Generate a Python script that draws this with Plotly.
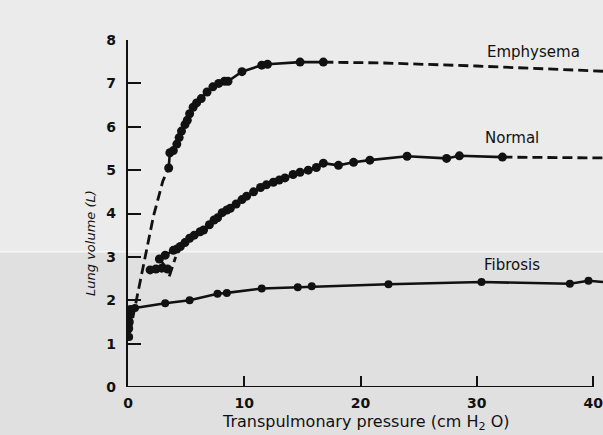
import plotly.graph_objects as go

# ---------------- data ----------------
# Emphysema: measured points (solid) and dashed extrapolations
emph_x = [3.5, 3.6, 3.9, 4.2, 4.4, 4.6, 4.9, 5.1, 5.3, 5.6, 5.9, 6.3, 6.8, 7.3, 7.8, 8.3, 8.6, 9.8, 11.5, 12.0, 14.8, 16.8]
emph_y = [5.05, 5.4, 5.45, 5.6, 5.75, 5.9, 6.05, 6.15, 6.3, 6.45, 6.55, 6.65, 6.8, 6.92, 7.0, 7.05, 7.05, 7.27, 7.42, 7.44, 7.49, 7.49]
emph_low_x = [0.15, 0.8, 1.5, 2.2, 3.0, 3.5]
emph_low_y = [1.25, 2.1, 3.0, 3.95, 4.75, 5.05]
emph_high_x = [16.8, 22.0, 30.0, 36.0, 40.85]
emph_high_y = [7.49, 7.47, 7.40, 7.34, 7.28]

# Normal
norm_x = [1.9, 2.4, 2.9, 3.4, 2.7, 3.2, 3.9, 4.2, 4.5, 4.9, 5.3, 5.7, 6.2, 6.5, 7.0, 7.4, 7.7, 8.1, 8.5, 8.8, 9.3, 9.8, 10.2, 10.8, 11.4, 11.9, 12.5, 13.0, 13.5, 14.2, 14.8, 15.5, 16.2, 16.8, 18.1, 19.4, 20.8, 24.0, 27.4, 28.5, 32.2]
norm_y = [2.7, 2.72, 2.74, 2.72, 2.95, 3.04, 3.15, 3.18, 3.24, 3.33, 3.43, 3.5, 3.58, 3.62, 3.74, 3.85, 3.9, 4.02, 4.08, 4.12, 4.22, 4.32, 4.4, 4.5, 4.6, 4.66, 4.72, 4.77, 4.82, 4.9, 4.95, 5.0, 5.06, 5.16, 5.11, 5.18, 5.23, 5.32, 5.27, 5.33, 5.3]
norm_ext_x = [32.2, 40.85]
norm_ext_y = [5.3, 5.28]
norm_low_x = [3.55, 4.1]
norm_low_y = [2.55, 3.0]

# Fibrosis
fib_x = [0.1, 0.1, 0.15, 0.15, 0.2, 0.6, 3.2, 5.3, 7.7, 8.5, 11.5, 14.6, 15.8, 22.4, 30.4, 38.0, 39.6]
fib_y = [1.15, 1.35, 1.5, 1.65, 1.8, 1.82, 1.93, 2.0, 2.15, 2.17, 2.27, 2.3, 2.32, 2.37, 2.42, 2.38, 2.45]
fib_ext_x = [39.6, 40.85]
fib_ext_y = [2.45, 2.42]

x_ticks = [0, 10, 20, 30, 40]
y_ticks = [0, 1, 2, 3, 4, 5, 6, 7, 8]

curve_labels = ["Emphysema", "Normal", "Fibrosis"]
label_x = [34.9, 33.0, 33.0]
label_y = [7.72, 5.74, 2.81]

INK = "#111111"
FONT = "DejaVu Sans"
fig = go.Figure()

def solid(x, y, size=8):
    fig.add_trace(go.Scatter(x=x, y=y, mode="lines+markers",
                             line=dict(color=INK, width=2.6),
                             marker=dict(color=INK, size=size),
                             showlegend=False, hoverinfo="skip"))

def dashed(x, y):
    fig.add_trace(go.Scatter(x=x, y=y, mode="lines",
                             line=dict(color=INK, width=2.8, dash="10px,5px"),
                             showlegend=False, hoverinfo="skip"))

dashed(emph_low_x, emph_low_y)
dashed(emph_high_x, emph_high_y)
solid(emph_x, emph_y, 9)
dashed(norm_ext_x, norm_ext_y)
dashed(norm_low_x, norm_low_y)
solid(norm_x, norm_y, 9)
fig.add_trace(go.Scatter(x=fib_ext_x, y=fib_ext_y, mode="lines",
                         line=dict(color=INK, width=2.6),
                         showlegend=False, hoverinfo="skip"))
solid(fib_x, fib_y, 8)

for t, lx, ly in zip(curve_labels, label_x, label_y):
    fig.add_annotation(x=lx, y=ly, text=t, showarrow=False,
                       font=dict(family=FONT, size=15, color=INK))

# axis titles
fig.add_annotation(xref="paper", yref="paper", x=0.499, y=-0.101,
                   xanchor="center", yanchor="middle",
                   text="Transpulmonary pressure (cm H<sub>2</sub> O)", showarrow=False,
                   font=dict(family=FONT, size=16, color=INK))
fig.add_annotation(xref="paper", yref="paper", x=-0.078, y=0.415,
                   xanchor="center", yanchor="middle",
                   text="<i>Lung volume (L)</i>", showarrow=False, textangle=-90,
                   font=dict(family=FONT, size=13, color=INK))

# scanned-paper background bands
fig.add_shape(type="rect", xref="paper", yref="paper", x0=-0.3, x1=1.0, y0=-0.2, y1=0.39,
              fillcolor="#e0e0e0", line=dict(width=0), layer="below")
fig.add_shape(type="line", xref="paper", yref="paper", x0=-0.3, x1=1.0, y0=0.39, y1=0.39,
              line=dict(color="#f6f6f6", width=1.5), layer="below")
# bottom axis line only up to 40
fig.add_shape(type="line", xref="x", yref="y", x0=0, x1=40, y0=0, y1=0,
              line=dict(color=INK, width=2.2))

tickfont = dict(family=FONT, size=14, color=INK, weight="bold")
fig.update_xaxes(range=[0, 40.85], tickvals=x_ticks, ticks="inside", ticklen=11,
                 tickwidth=2, tickcolor=INK, showline=False, showgrid=False,
                 zeroline=False, tickfont=tickfont, ticklabelstandoff=6,
                 ticklabeloverflow="allow")
fig.update_yaxes(range=[0, 8], tickvals=y_ticks, ticks="inside", ticklen=13,
                 tickwidth=2, tickcolor=INK, showline=True, linecolor=INK, linewidth=2.2,
                 showgrid=False, zeroline=False, tickfont=tickfont, ticklabelstandoff=7)

fig.update_layout(width=603, height=435,
                  margin=dict(l=128, r=0, t=40, b=48),
                  paper_bgcolor="#ebebeb", plot_bgcolor="rgba(0,0,0,0)",
                  font=dict(family=FONT, color=INK))

fig.write_html("out.html", config={"displayModeBar": False},
               post_script="document.body.style.margin='0';")
